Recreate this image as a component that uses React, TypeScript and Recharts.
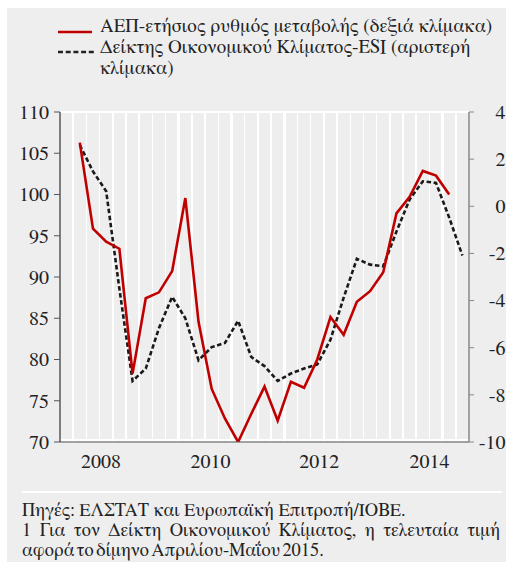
import React from "react";
import { LineChart, Line, XAxis, YAxis, ReferenceLine } from "recharts";

// Quarterly categories (band per quarter)
const quarters = [
  "2007 Q4",
  "2008 Q1", "2008 Q2", "2008 Q3", "2008 Q4",
  "2009 Q1", "2009 Q2", "2009 Q3", "2009 Q4",
  "2010 Q1", "2010 Q2", "2010 Q3", "2010 Q4",
  "2011 Q1", "2011 Q2", "2011 Q3", "2011 Q4",
  "2012 Q1", "2012 Q2", "2012 Q3", "2012 Q4",
  "2013 Q1", "2013 Q2", "2013 Q3", "2013 Q4",
  "2014 Q1", "2014 Q2", "2014 Q3", "2014 Q4",
  "2015 Q1", "2015 Q2",
];

// ΑΕΠ – ετήσιος ρυθμός μεταβολής (right scale, %)
const gdpGrowth: (number | null)[] = [
  null,
  2.7, -0.95, -1.5, -1.8,
  -7.1, -3.9, -3.65, -2.75,
  0.35, -4.9, -7.75, -9.0,
  -10.0, -8.8, -7.65, -9.1,
  -7.45, -7.7, -6.5, -4.7,
  -5.45, -4.05, -3.6, -2.8,
  -0.3, 0.4, 1.5, 1.3,
  0.5, null,
];

// Δείκτης Οικονομικού Κλίματος – ESI (left scale)
const esiIndex: (number | null)[] = [
  null,
  106.0, 102.8, 100.4, 88.6,
  77.4, 78.9, 83.8, 87.6,
  85.0, 79.9, 81.5, 82.0,
  84.7, 80.3, 79.2, 77.4,
  78.3, 78.9, 79.4, 82.4,
  87.5, 92.2, 91.5, 91.3,
  95.5, 99.4, 101.6, 101.4,
  97.2, 92.6,
];

const esiTicks = [70, 75, 80, 85, 90, 95, 100, 105, 110];
const gdpTicks = [-10, -8, -6, -4, -2, 0, 2, 4];
const yearLabels = ["2008", "2010", "2012", "2014"];
const yearLabelPositions = [3.1, 11.4, 19.65, 28.0];

const seriesNames = {
  gdp: "ΑΕΠ-ετήσιος ρυθμός μεταβολής (δεξιά κλίμακα)",
  esi: "Δείκτης Οικονομικού Κλίματος-ESI (αριστερή κλίμακα)",
};
const sourceText = "Πηγές: ΕΛΣΤΑΤ και Ευρωπαϊκή Επιτροπή/ΙΟΒΕ.";
const noteLine1 = "1 Για τον Δείκτη Οικονομικού Κλίματος, η τελευταία τιμή";
const noteLine2 = "αφορά το δίμηνο Απριλίου-Μαΐου 2015.";

const FONT = "FreeSerif, Liberation Serif, serif";
const RED = "#c00000";
const DARK = "#222222";
const BG = "#eeeeee";

const CHART_W = 506;
const CHART_H = 480;
const PLOT_TOP = 112;
const X_TICK_H = 8;
const X_LABEL_H = 30;
const PLOT_BOTTOM = CHART_H - X_TICK_H - X_LABEL_H;
const MARGIN = { top: PLOT_TOP, right: 0, bottom: 0, left: 0 };

const data = quarters.map((q, i) => ({
  q,
  x: i + 0.5,
  esi: esiIndex[i],
  gdp: gdpGrowth[i],
}));
const boundaries = quarters.map((_, i) => i).concat([quarters.length]);

// White vertical gridlines at every quarter boundary (thicker at year starts)
const GridTick = (props: any) => {
  const { x, payload } = props;
  const b = payload ? payload.value : 0;
  if (b <= 0 || b >= quarters.length) return null;
  const thick = b > 1 && quarters[b].endsWith("Q1");
  return (
    <line
      x1={x}
      x2={x}
      y1={PLOT_TOP}
      y2={PLOT_BOTTOM}
      stroke="#ffffff"
      strokeWidth={thick ? 2.5 : 1.5}
      shapeRendering="crispEdges"
    />
  );
};

const YearTick = (props: any) => {
  const { x, y, index } = props;
  return (
    <text x={x} y={y + 18} textAnchor="middle" style={{ fontSize: 20, fontFamily: FONT }} fill={DARK}>
      {yearLabels[index]}
    </text>
  );
};

const LeftTick = (props: any) => {
  const { x, y, payload } = props;
  return (
    <text x={x} y={y} dy="0.34em" textAnchor="end" style={{ fontSize: 20, fontFamily: FONT }} fill={DARK}>
      {payload.value}
    </text>
  );
};

const RightTick = (props: any) => {
  const { y, payload } = props;
  return (
    <text x={505.5} y={y} dy="0.34em" textAnchor="end" style={{ fontSize: 20, fontFamily: FONT }} fill={DARK}>
      {payload.value}
    </text>
  );
};

export default function App() {
  return (
    <div style={{ position: "absolute", left: 0, top: 0, width: 506, height: 562, background: "#fff", overflow: "hidden" }}>
      <div style={{ position: "absolute", left: 7, top: 8, width: 499, height: 554, background: BG }} />

      {/* Legend */}
      <div style={{ position: "absolute", left: 100, top: 16, width: 394, fontFamily: FONT, fontSize: 19, lineHeight: "21px", color: DARK }}>
        <div style={{ position: "relative" }}>
          <svg style={{ position: "absolute", left: -42, top: 0 }} width={40} height={22}>
            <line x1={0} x2={34} y1={16} y2={16} stroke={RED} strokeWidth={2.6} />
          </svg>
          {seriesNames.gdp}
        </div>
        <div style={{ position: "relative" }}>
          <svg style={{ position: "absolute", left: -42, top: 0 }} width={40} height={22}>
            <line x1={0} x2={38} y1={15} y2={15} stroke={DARK} strokeWidth={2.6} strokeDasharray="5 2.7" />
          </svg>
          {seriesNames.esi}
        </div>
      </div>

      {/* Gridline underlay (same layout as the main chart) */}
      <div style={{ position: "absolute", left: 0, top: 0 }}>
        <LineChart width={CHART_W} height={CHART_H} data={data} margin={MARGIN}>
          <XAxis
            xAxisId="ticks"
            type="number"
            dataKey="x"
            domain={[0, quarters.length]}
            ticks={boundaries}
            interval={0}
            height={X_TICK_H}
            tickSize={0}
            tickMargin={0}
            axisLine={false}
            tickLine={false}
            tick={<GridTick />}
            allowDataOverflow
          />
          <XAxis
            xAxisId="years"
            type="number"
            dataKey="x"
            domain={[0, quarters.length]}
            height={X_LABEL_H}
            tick={false}
            axisLine={false}
            tickLine={false}
            allowDataOverflow
          />
          <YAxis yAxisId="esi" orientation="left" width={60} domain={[70, 110]} tick={false} axisLine={false} tickLine={false} allowDataOverflow />
          <YAxis yAxisId="gdp" orientation="right" width={37} domain={[-10, 4]} tick={false} axisLine={false} tickLine={false} allowDataOverflow />
          <ReferenceLine xAxisId="ticks" yAxisId="esi" y={110} stroke="#ffffff" strokeWidth={2} shapeRendering="crispEdges" />
          <ReferenceLine xAxisId="ticks" yAxisId="esi" y={70.25} stroke="#ffffff" strokeWidth={2} shapeRendering="crispEdges" />
          <Line
            xAxisId="ticks"
            yAxisId="esi"
            dataKey="esi"
            stroke="transparent"
            dot={false}
            activeDot={false}
            isAnimationActive={false}
          />
        </LineChart>
      </div>

      {/* Main chart */}
      <div style={{ position: "absolute", left: 0, top: 0 }}>
        <LineChart width={CHART_W} height={CHART_H} data={data} margin={MARGIN}>
          <XAxis
            xAxisId="ticks"
            type="number"
            dataKey="x"
            domain={[0, quarters.length]}
            ticks={boundaries}
            interval={0}
            height={X_TICK_H}
            tickSize={5}
            tick={false}
            axisLine={{ stroke: "#555", strokeWidth: 1 }}
            tickLine={{ stroke: "#555", strokeWidth: 1 }}
            allowDataOverflow
          />
          <XAxis
            xAxisId="years"
            type="number"
            dataKey="x"
            domain={[0, quarters.length]}
            ticks={yearLabelPositions}
            interval={0}
            height={X_LABEL_H}
            tickSize={0}
            tickMargin={0}
            axisLine={false}
            tickLine={false}
            tick={<YearTick />}
            allowDataOverflow
          />
          <YAxis
            yAxisId="esi"
            orientation="left"
            width={60}
            domain={[70, 110]}
            ticks={esiTicks}
            interval={0}
            tickSize={6}
            tickMargin={5}
            axisLine={{ stroke: "#333", strokeWidth: 1.2 }}
            tickLine={{ stroke: "#555" }}
            tick={<LeftTick />}
            allowDataOverflow
          />
          <YAxis
            yAxisId="gdp"
            orientation="right"
            width={37}
            domain={[-10, 4]}
            ticks={gdpTicks}
            interval={0}
            tickSize={5}
            tickMargin={4}
            axisLine={{ stroke: "#888", strokeWidth: 1.5 }}
            tickLine={{ stroke: "#888" }}
            tick={<RightTick />}
            allowDataOverflow
          />
          <Line
            xAxisId="ticks"
            yAxisId="esi"
            dataKey="esi"
            stroke="#1a1a1a"
            strokeWidth={2.6}
            strokeDasharray="4.5 2.6"
            dot={false}
            activeDot={false}
            isAnimationActive={false}
            connectNulls={false}
          />
          <Line
            xAxisId="ticks"
            yAxisId="gdp"
            dataKey="gdp"
            stroke={RED}
            strokeWidth={2.6}
            dot={false}
            activeDot={false}
            isAnimationActive={false}
            connectNulls={false}
          />
        </LineChart>
      </div>

      {/* Footer */}
      <div style={{ position: "absolute", left: 22, top: 491, width: 480, height: 2, background: "#ffffff" }} />
      <div style={{ position: "absolute", left: 22, top: 501, width: 478, fontFamily: FONT, fontSize: 18.4, lineHeight: "20px", color: DARK }}>
        <div style={{ whiteSpace: "nowrap" }}>{sourceText}</div>
        <div style={{ textAlign: "justify", textAlignLast: "justify" as any }}>{noteLine1}</div>
        <div style={{ whiteSpace: "nowrap", wordSpacing: "-2.5px" }}>{noteLine2}</div>
      </div>
    </div>
  );
}
